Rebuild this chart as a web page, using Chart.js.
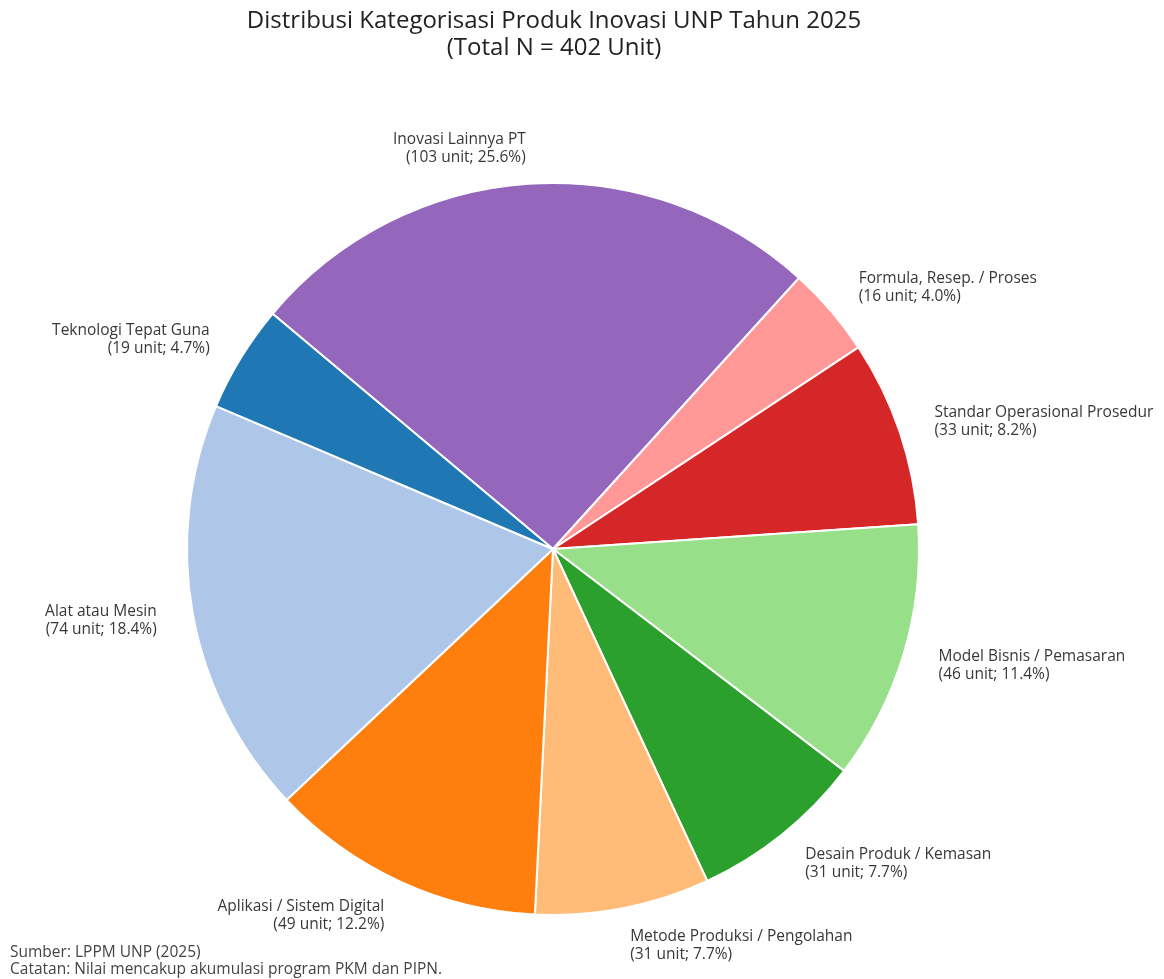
<!DOCTYPE html>
<html>
<head>
<meta charset="utf-8">
<script src="https://cdn.jsdelivr.net/npm/chart.js@4.4.1/dist/chart.umd.min.js"></script>
<style>
  html, body { margin: 0; padding: 0; background: #fff; }
  #wrap { width: 1164px; height: 979px; position: relative; }
</style>
</head>
<body>
<div id="wrap"><canvas id="chart-pie"></canvas></div>
<script>
// data, clockwise from the upper-left boundary
const categories = [
  'Inovasi Lainnya PT',
  'Formula, Resep. / Proses',
  'Standar Operasional Prosedur',
  'Model Bisnis / Pemasaran',
  'Desain Produk / Kemasan',
  'Metode Produksi / Pengolahan',
  'Aplikasi / Sistem Digital',
  'Alat atau Mesin',
  'Teknologi Tepat Guna'
];
const units = [103, 16, 33, 46, 31, 31, 49, 74, 19];
const colors = ['#9467bd', '#ff9896', '#d62728', '#98df8a', '#2ca02c', '#ffbb78', '#ff7f0e', '#aec7e8', '#1f77b4'];
const titleLines = ['Distribusi Kategorisasi Produk Inovasi UNP Tahun 2025', '(Total N = 402 Unit)'];
const noteLines = ['Sumber: LPPM UNP (2025)', 'Catatan: Nilai mencakup akumulasi program PKM dan PIPN.'];

const total = units.reduce((a, b) => a + b, 0);
const FONT = '"Open Sans", Roboto, sans-serif';

// labels outside the slices + title + footnote
const outsideLabels = {
  id: 'outsideLabels',
  afterDraw(chart) {
    const ctx = chart.ctx;
    const arcs = chart.getDatasetMeta(0).data;
    ctx.save();
    ctx.font = '15.5px ' + FONT;
    ctx.fillStyle = '#383838';
    ctx.textBaseline = 'middle';
    arcs.forEach((arc, i) => {
      const mid = (arc.startAngle + arc.endAngle) / 2;
      const r = arc.outerRadius * 1.1;
      const x = arc.x + Math.cos(mid) * r;
      const y = arc.y + Math.sin(mid) * r + 1;
      const pct = (units[i] / total * 100).toFixed(1);
      const lines = [categories[i], '(' + units[i] + ' unit; ' + pct + '%)'];
      ctx.textAlign = Math.cos(mid) < 0 ? 'right' : 'left';
      const lh = 18;
      lines.forEach((t, k) => {
        ctx.fillText(t, x, y + (k - (lines.length - 1) / 2) * lh);
      });
    });

    // title
    ctx.fillStyle = '#222';
    ctx.font = '24px ' + FONT;
    ctx.textAlign = 'center';
    ctx.fillText(titleLines[0], 554, 21);
    ctx.fillText(titleLines[1], 554, 48);

    // notes
    ctx.fillStyle = '#444';
    ctx.font = '15.5px ' + FONT;
    ctx.textAlign = 'left';
    ctx.fillText(noteLines[0], 10, 953);
    ctx.fillText(noteLines[1], 10, 970);
    ctx.restore();
  }
};

new Chart(document.getElementById('chart-pie'), {
  type: 'pie',
  data: {
    labels: categories,
    datasets: [{
      data: units,
      backgroundColor: colors,
      borderColor: '#fff',
      borderWidth: 2
    }]
  },
  options: {
    responsive: true,
    maintainAspectRatio: false,
    animation: false,
    rotation: -50,
    layout: { padding: { top: 182, bottom: 63, left: 186, right: 244 } },
    plugins: {
      legend: { display: false },
      tooltip: { enabled: false }
    }
  },
  plugins: [outsideLabels]
});
</script>
</body>
</html>
